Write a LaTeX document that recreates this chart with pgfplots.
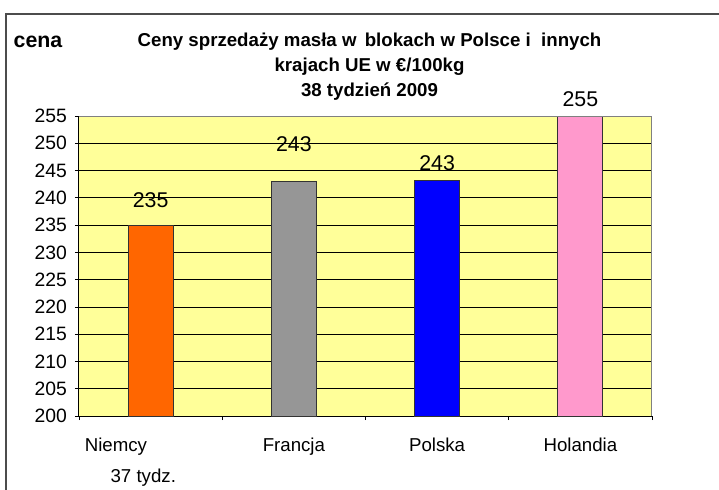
\documentclass[border=0pt]{standalone}
\usepackage{pgfplots}
\pgfplotsset{compat=1.18}
\usepackage{fontspec}
\setmainfont{Liberation Sans}
\definecolor{bgyellow}{HTML}{FFFF99}
\definecolor{barorange}{HTML}{FF6600}
\definecolor{bargrey}{HTML}{969696}
\definecolor{barblue}{HTML}{0000FF}
\definecolor{barpink}{HTML}{FF99CC}
\begin{document}
\begin{tikzpicture}
\path[use as bounding box] (-59.25pt,-55.5pt) rectangle (480pt,312pt);
\begin{axis}[
  at={(0,0)}, anchor=south west,
  scale only axis, width=429.75pt, height=225pt,
  xmin=-0.5, xmax=3.5, ymin=200, ymax=255,
  ytick={200,205,...,255},
  xtick={0,1,2,3},
  xticklabels={{\makebox[0pt][c]{\hspace*{-52pt}Niemcy}\\\makebox[0pt][c]{\hspace*{-11pt}37 tydz.}},Francja,Polska,Holandia},
  minor xtick={-0.5,0.5,1.5,2.5,3.5},
  axis lines*=left,
  axis line style={black, line width=0.75pt},
  tick align=outside,
  major tick length=3pt, minor tick length=3pt,
  major x tick style={draw=none},
  tick style={black, line width=0.6pt},
  ymajorgrids, grid style={black, line width=0.6pt},
  axis background/.style={fill=bgyellow},
  /pgf/number format/assume math mode=true,
  yticklabel style={font=\fontsize{14.5}{17}\selectfont, xshift=-2.5pt},
  xticklabel style={font=\fontsize{14}{23}\selectfont, align=center, yshift=-10pt},
  ybar, bar width=0.314, bar shift=0pt,
]
\addplot[fill=barorange, draw=black!80, line width=0.6pt] coordinates {(0,235)};
\addplot[fill=bargrey, draw=black!80, line width=0.6pt] coordinates {(1,242.96)};
\addplot[fill=barblue, draw=black!80, line width=0.6pt] coordinates {(2,243.27)};
\addplot[fill=barpink, draw=black!80, line width=0.6pt] coordinates {(3,255)};
\draw[gray, line width=0.75pt] (rel axis cs:0,1) -- (rel axis cs:1,1) -- (rel axis cs:1,0);
\end{axis}
\begin{axis}[
  at={(0,0)}, anchor=south west,
  scale only axis, width=429.75pt, height=225pt,
  xmin=-0.5, xmax=3.5, ymin=200, ymax=255,
  hide axis, clip=false,
]
\addplot[draw=none, nodes near coords, point meta=explicit symbolic,
  nodes near coords style={anchor=center, font=\fontsize{16}{19}\selectfont}]
  coordinates {(0,239.6) [235] (1,249.9) [243] (2,246.4) [243] (3,258.0) [255]};
\end{axis}
\draw[black!70, line width=1.5pt] (-54.4pt,-55.5pt) -- (-54.4pt,301.5pt) -- (480pt,301.5pt);
\node[anchor=base west, font=\fontsize{16}{19}\selectfont\bfseries] at (-52.5pt,276pt) {cena};
\node[anchor=base, font=\fontsize{14}{17}\selectfont\bfseries] at (217.9pt,276.75pt) {Ceny sprzedaży masła w\ \,blokach w Polsce i\ \ innych};
\node[anchor=base, font=\fontsize{14}{17}\selectfont\bfseries] at (217.9pt,258pt) {krajach UE w €/100kg};
\node[anchor=base, font=\fontsize{14}{17}\selectfont\bfseries] at (217.9pt,239.25pt) {38 tydzień 2009};
\end{tikzpicture}
\end{document}
